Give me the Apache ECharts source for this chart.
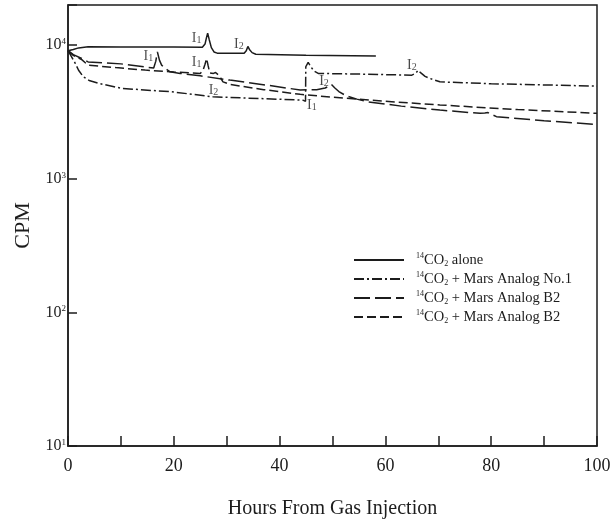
<!DOCTYPE html>
<html><head><meta charset="utf-8">
<script src="https://cdn.jsdelivr.net/npm/echarts@6/dist/echarts.min.js"></script>
<style>html,body{margin:0;padding:0;background:#fff}#c{width:613px;height:520px}</style>
</head><body><div id="c"></div>
<script>
// ---- data (hours from gas injection, CPM) ----
const co2Alone = [[0,9100],[1,9300],[2,9550],[3.8,9750],[10,9700],[20,9680],[25.4,9660],[25.9,10200],[26.2,11500],[26.4,12300],[26.7,11000],[27.1,9600],[27.6,8900],[28.2,8720],[33.3,8700],[33.7,9100],[34.0,9800],[34.3,9300],[34.8,8800],[35.5,8550],[45,8400],[58.2,8300]];
const marsNo1 = [[0,9100],[0.6,8300],[1.3,7400],[2,6500],[2.9,5800],[4,5450],[5.7,5190],[10.2,4750],[19.6,4480],[27.4,4110],[44.4,3880],[44.9,3800],[44.95,6900],[45.4,7430],[45.9,6900],[46.5,6400],[47.3,6150],[55,6080],[65,5970],[65.7,6150],[66.2,6500],[66.7,6200],[67.5,5850],[68.4,5640],[70.3,5320],[80,5150],[100,4940]];
const marsB2a = [[0,9100],[1,8500],[2.6,7950],[3.8,7500],[10,7250],[16.2,6750],[16.6,7600],[16.9,8900],[17.3,7700],[17.7,7090],[18.6,6600],[19.3,6320],[21.2,6150],[25,5900],[30.6,5480],[38,5000],[43.9,4620],[47,4650],[48.6,4780],[49.4,4950],[49.8,5080],[50.4,4800],[51.2,4500],[52.5,4200],[54.6,3950],[56.5,3780],[63,3500],[70.3,3270],[77.9,3090],[78.8,3110],[79.4,3130],[80.2,3020],[81,2920],[90,2720],[100,2550]];
const marsB2b = [[0,9100],[1,8400],[2.6,7800],[3.8,7090],[9,6800],[14.6,6510],[20,6300],[25,6150],[25.5,6450],[25.9,7200],[26.2,7950],[26.5,7000],[26.8,6200],[27.5,6150],[27.9,6250],[28.2,6330],[28.6,5900],[29.3,5320],[30.6,5090],[37,4650],[43.9,4290],[50,4080],[54.6,3950],[62,3760],[70.3,3570],[85,3300],[100,3090]];
// injection annotations: [hour, cpm, subscript]
const annotations = [[24.3,11300,'1'],[32.3,10100,'2'],[15.2,8190,'1'],[24.3,7500,'1'],[27.5,4560,'2'],[46.1,3570,'1'],[48.4,5380,'2'],[65,7090,'2']];
const seriesKeys = ['alone','no1','b2a','b2b'];
const legendLabels = ['{sup|14}CO{sub|2} alone','{sup|14}CO{sub|2} + Mars Analog No.1','{sup|14}CO{sub|2} + Mars Analog B2','{sup|14}CO{sub|2} + Mars Analog B2'];
const xLabelEvery = 20;

const ink = '#1c1c1c';
const serif = 'Liberation Serif';
const dashes = ['solid',[10,3,2,3],[16,5],[9,4]];
const seriesData = [co2Alone, marsNo1, marsB2a, marsB2b];

const chart = echarts.init(document.getElementById('c'));
const lineSeries = seriesKeys.map((k,i)=>({
  name:k, type:'line', data:seriesData[i], symbol:'none', showSymbol:false,
  lineStyle:{color:ink,width:1.5,type:dashes[i]}, itemStyle:{color:ink}, silent:true, z:3
}));
lineSeries.push({
  type:'scatter', symbolSize:0, silent:true, z:5,
  data: annotations.map(a=>({value:[a[0],a[1]], name:a[2]})),
  label:{show:true, position:'inside', color:ink, fontFamily:serif, fontSize:14,
    formatter:p=>'I{s|'+p.name+'}',
    rich:{s:{fontFamily:serif,fontSize:10,verticalAlign:'bottom',lineHeight:10,color:ink}}}
});

chart.setOption({
  backgroundColor:'#fff',
  animation:false,
  grid:{left:68,right:16,top:5,bottom:74,outerBoundsMode:'none',containLabel:false,show:true,borderColor:ink,borderWidth:1.5,backgroundColor:'transparent'},
  legend:{
    data:seriesKeys, orient:'vertical', left:353, top:252, padding:0, itemWidth:50, itemHeight:14, itemGap:3,
    selectedMode:false,
    itemStyle:{opacity:0},
    formatter:n=>legendLabels[seriesKeys.indexOf(n)],
    textStyle:{color:ink,fontFamily:serif,fontSize:14.5,lineHeight:16,padding:[0,0,0,7],
      rich:{sup:{fontFamily:serif,fontSize:8,verticalAlign:'top',lineHeight:10,color:ink},
            sub:{fontFamily:serif,fontSize:8,verticalAlign:'bottom',lineHeight:10,color:ink}}}
  },
  xAxis:{
    type:'value', min:0, max:100, interval:10,
    name:'Hours From Gas Injection', nameLocation:'middle', nameGap:53,
    nameTextStyle:{color:ink,fontFamily:serif,fontSize:20},
    axisLine:{lineStyle:{color:ink,width:1.5}},
    axisTick:{inside:true,length:10,lineStyle:{color:ink,width:1.5}},
    axisLabel:{color:ink,fontFamily:serif,fontSize:18,margin:11,
      formatter:v=>(v%xLabelEvery===0?String(v):'')},
    splitLine:{show:false}
  },
  yAxis:{
    type:'log', logBase:10, min:10, max:20000,
    name:'CPM', nameLocation:'middle', nameGap:28, nameRotate:90,
    nameTextStyle:{color:ink,fontFamily:serif,fontSize:22},
    axisLine:{lineStyle:{color:ink,width:1.5}},
    axisTick:{inside:true,length:9,lineStyle:{color:ink,width:1.5}},
    minorTick:{show:false},
    axisLabel:{color:ink,fontFamily:serif,fontSize:16,margin:2,
      formatter:v=>{const e=Math.round(Math.log10(v)); return Math.abs(Math.pow(10,e)-v)<1e-6*v ? '10{sup|'+e+'}' : '';},
      rich:{sup:{fontFamily:serif,fontSize:9,verticalAlign:'top',lineHeight:11,color:ink}}},
    splitLine:{show:false}
  },
  series:lineSeries
});
</script></body></html>
